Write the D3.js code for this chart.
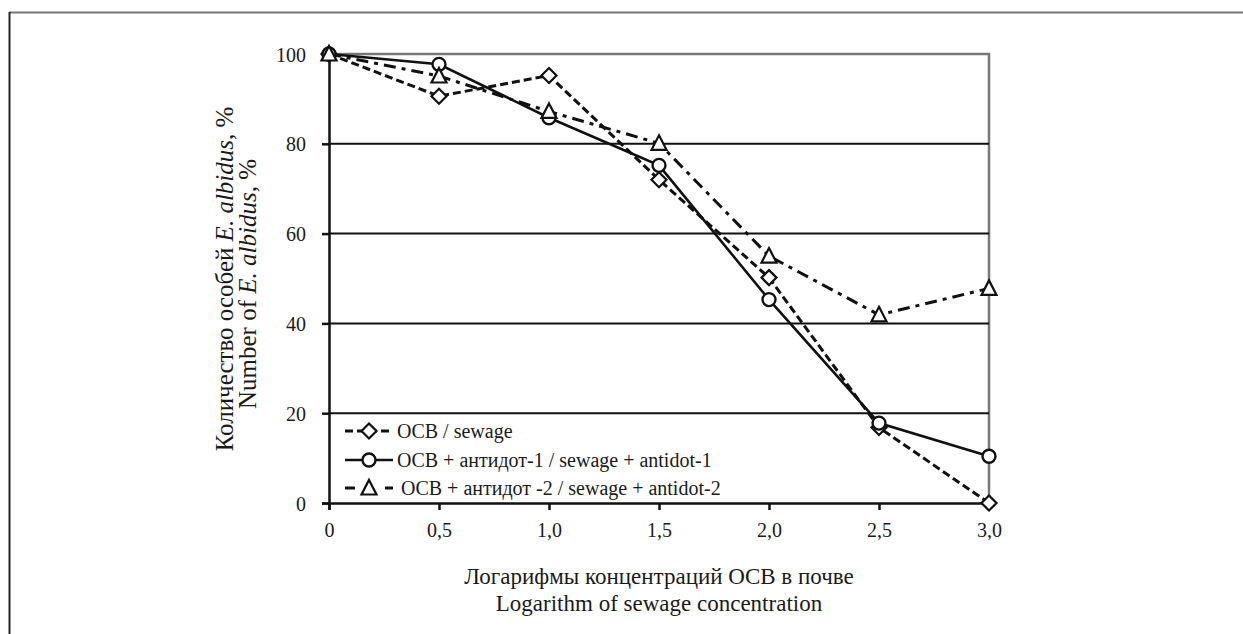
<!DOCTYPE html>
<meta charset="utf-8">
<script src="https://d3js.org/d3.v7.min.js"></script>
<style>
body { margin: 0; background: #fff; }
svg text { font-family: "Liberation Serif", "Times New Roman", serif; fill: #1a1a1a; }
</style>
<body>
<script>
// chart data
var xValues = [0, 0.5, 1.0, 1.5, 2.0, 2.5, 3.0];
var xTickLabels = ["0", "0,5", "1,0", "1,5", "2,0", "2,5", "3,0"];
var yTicks = [0, 20, 40, 60, 80, 100];
var sewage = [100, 90.6, 95.2, 72, 50.2, 16.8, 0];
var antidot1 = [100, 97.7, 85.8, 75.2, 45.3, 17.8, 10.4];
var antidot2 = [100, 95.1, 87.2, 80.1, 55, 41.9, 47.8];
var legendLabels = [
  "OCB / sewage",
  "OCB + антидот-1 / sewage + antidot-1",
  "OCB + антидот -2 / sewage + antidot-2"
];

var W = 1243, H = 634;
var svg = d3.select("body").append("svg")
    .attr("width", W)
    .attr("height", H);

// outer frame (top and left only)
svg.append("line").attr("x1", 9).attr("x2", W).attr("y1", 12.5).attr("y2", 12.5)
    .attr("stroke", "#777").attr("stroke-width", 2);
svg.append("line").attr("x1", 9.5).attr("x2", 9.5).attr("y1", 12).attr("y2", H)
    .attr("stroke", "#222").attr("stroke-width", 2);

var x = d3.scaleLinear().domain([0, 3]).range([329, 989]);
var y = d3.scaleLinear().domain([0, 100]).range([503, 54]);

// plot border right / top
svg.append("path")
    .attr("d", "M" + x(0) + "," + y(100) + "H" + x(3) + "V" + y(0))
    .attr("fill", "none").attr("stroke", "#777").attr("stroke-width", 2.5);

// gridlines
svg.selectAll(".grid").data(yTicks.filter(function(d) { return d > 0 && d < 100; }))
  .enter().append("line")
    .attr("x1", x(0)).attr("x2", x(3))
    .attr("y1", function(d) { return y(d); })
    .attr("y2", function(d) { return y(d); })
    .attr("stroke", "#111").attr("stroke-width", 2);

// axes
var yAxis = svg.append("g")
    .attr("transform", "translate(" + x(0) + ",0)")
    .call(d3.axisLeft(y).tickValues(yTicks).tickSize(7).tickPadding(16));
var xAxis = svg.append("g")
    .attr("transform", "translate(0," + y(0) + ")")
    .call(d3.axisBottom(x).tickValues(xValues).tickSize(7).tickPadding(13)
      .tickFormat(function(d, i) { return xTickLabels[i]; }));

[yAxis, xAxis].forEach(function(a) {
  a.select(".domain").attr("stroke", "#111").attr("stroke-width", 2.5);
  a.selectAll(".tick line").attr("stroke", "#111").attr("stroke-width", 2.5);
  a.selectAll(".tick text").attr("font-size", 20).style("fill", "#1a1a1a");
});
yAxis.selectAll(".tick text").attr("dy", "0.35em");

// series
var series = [
  { values: sewage, dash: "8,4", width: 3, marker: "diamond" },
  { values: antidot1, dash: null, width: 2.6, marker: "circle" },
  { values: antidot2, dash: "12,6,4,6", width: 3, marker: "triangle" }
];

var line = d3.line()
    .x(function(d, i) { return x(xValues[i]); })
    .y(function(d) { return y(d); });

function drawMarker(g, type, cx, cy) {
  if (type === "circle") {
    g.append("circle").attr("cx", cx).attr("cy", cy).attr("r", 6.5)
      .attr("fill", "#fff").attr("stroke", "#111").attr("stroke-width", 2.4);
  } else if (type === "diamond") {
    g.append("path")
      .attr("d", "M" + cx + "," + (cy - 7.5) + "L" + (cx + 7.5) + "," + cy + "L" + cx + "," + (cy + 7.5) + "L" + (cx - 7.5) + "," + cy + "Z")
      .attr("fill", "#fff").attr("stroke", "#111").attr("stroke-width", 2.2);
  } else {
    g.append("path")
      .attr("d", "M" + cx + "," + (cy - 8) + "L" + (cx + 7.5) + "," + (cy + 6.5) + "L" + (cx - 7.5) + "," + (cy + 6.5) + "Z")
      .attr("fill", "#fff").attr("stroke", "#111").attr("stroke-width", 2.2);
  }
}

series.forEach(function(s) {
  svg.append("path")
    .attr("d", line(s.values))
    .attr("fill", "none")
    .attr("stroke", "#111")
    .attr("stroke-width", s.width)
    .attr("stroke-dasharray", s.dash);
});
series.forEach(function(s) {
  var g = svg.append("g");
  s.values.forEach(function(v, i) { drawMarker(g, s.marker, x(xValues[i]), y(v)); });
});

// legend
var legendY = [431, 460, 488];
series.forEach(function(s, i) {
  var g = svg.append("g");
  g.append("line").attr("x1", 345).attr("x2", 393)
    .attr("y1", legendY[i]).attr("y2", legendY[i])
    .attr("stroke", "#111").attr("stroke-width", s.width)
    .attr("stroke-dasharray", i === 2 ? "10,30" : s.dash);
  drawMarker(g, s.marker, 369, legendY[i]);
  g.append("text").attr("x", i === 2 ? 401 : 397).attr("y", legendY[i]).attr("dy", "0.35em")
    .attr("font-size", 20).text(legendLabels[i]);
});

// y axis title
var yt = svg.append("text")
    .attr("transform", "translate(233,279) rotate(-90)")
    .attr("text-anchor", "middle")
    .attr("font-size", 25);
yt.append("tspan").text("Количество особей ");
yt.append("tspan").attr("font-style", "italic").text("E. albidus");
yt.append("tspan").text(", %");
var yt2 = svg.append("text")
    .attr("transform", "translate(256,284) rotate(-90)")
    .attr("text-anchor", "middle")
    .attr("font-size", 25);
yt2.append("tspan").text("Number of ");
yt2.append("tspan").attr("font-style", "italic").text("E. albidus");
yt2.append("tspan").text(", %");

// x axis title
svg.append("text").attr("x", 659).attr("y", 584).attr("text-anchor", "middle")
  .attr("font-size", 23).text("Логарифмы концентраций OCB в почве");
svg.append("text").attr("x", 659).attr("y", 611).attr("text-anchor", "middle")
  .attr("font-size", 23).text("Logarithm of sewage concentration");
</script>
</body>
